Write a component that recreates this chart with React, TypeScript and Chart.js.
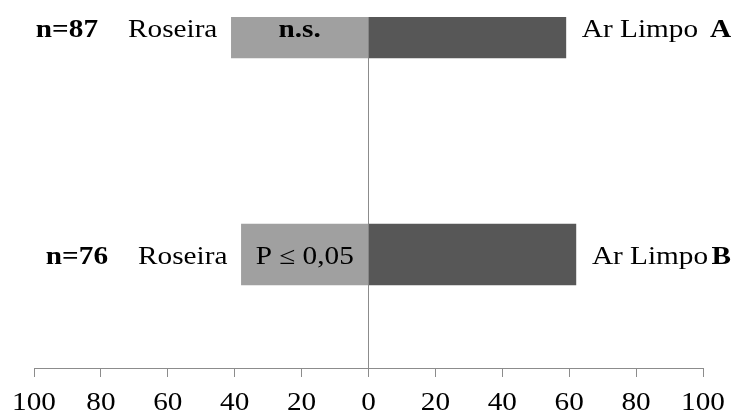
import React, { useEffect, useRef } from "react";
import { Chart, registerables } from "chart.js";

Chart.register(...registerables);

const rows = ["A", "B"];
const sampleSizes = ["n=87", "n=76"];
const significance = ["n.s.", "P \u2264 0,05"];
const leftLabel = "Roseira";
const rightLabel = "Ar Limpo";
const roseira = [41, 38];
const arLimpo = [59, 62];
const xMin = -100;
const xMax = 100;
const xStep = 20;

const FONT = '"Liberation Serif", "Times New Roman", serif';
const SX = 1.17;
const SIZE = 25;

function drawText(ctx: CanvasRenderingContext2D, text: string, x: number, y: number, align: "left" | "right" | "center", bold = false) {
  ctx.save();
  ctx.font = `${bold ? "bold " : ""}${SIZE}px ${FONT}`;
  const w = ctx.measureText(text).width * SX;
  const left = align === "right" ? x - w : align === "center" ? x - w / 2 : x;
  ctx.translate(left, y);
  ctx.scale(SX, 1);
  ctx.textAlign = "left";
  ctx.textBaseline = "alphabetic";
  ctx.fillStyle = "#000";
  ctx.fillText(text, 0, 0);
  ctx.restore();
  return w;
}

const labelsPlugin = {
  id: "labelsPlugin",
  afterDraw(chart: any) {
    const ctx: CanvasRenderingContext2D = chart.ctx;
    const xs = chart.scales.x;
    xs.ticks.forEach((t: any, i: number) => {
      drawText(ctx, String(Math.abs(t.value)), xs.getPixelForTick(i), 410, "center");
    });
    const left = chart.getDatasetMeta(0).data;
    const right = chart.getDatasetMeta(1).data;
    rows.forEach((r, i) => {
      const lb = left[i];
      const rb = right[i];
      const y = lb.y + 10;
      const rw = drawText(ctx, leftLabel, lb.x - 14, y, "right");
      drawText(ctx, sampleSizes[i], lb.x - 14 - rw - 30, y, "right", true);
      drawText(ctx, significance[i], (lb.x + lb.base) / 2, y, "center", i === 0);
      drawText(ctx, rightLabel, rb.x + 16, y, "left");
      drawText(ctx, r, chart.chartArea.right + 28, y, "right", true);
    });
  },
};

export default function App() {
  const ref = useRef<HTMLCanvasElement | null>(null);
  useEffect(() => {
    document.body.style.margin = "0";
    const pos = rows.map((_, i) => rows.length - i - 0.5);
    const chart = new Chart(ref.current as HTMLCanvasElement, {
      type: "bar",
      data: {
        datasets: [
          {
            label: leftLabel,
            data: roseira.map((v, i) => ({ x: -v, y: pos[i] })),
            backgroundColor: "#a0a0a0",
            barThickness: 61,
            grouped: false,
            clip: 0,
          },
          {
            label: rightLabel,
            data: arLimpo.map((v, i) => ({ x: v, y: pos[i] })),
            backgroundColor: "#575757",
            barThickness: 61,
            grouped: false,
            clip: 0,
          },
        ],
      },
      options: {
        indexAxis: "y",
        animation: false,
        responsive: false,
        layout: { padding: { left: 34, right: 31, top: 17, bottom: 0 } },
        plugins: { legend: { display: false }, tooltip: { enabled: false } },
        scales: {
          x: {
            type: "linear",
            min: xMin,
            max: xMax,
            ticks: { stepSize: xStep, display: false },
            grid: {
              color: (c: any) => (c.tick && c.tick.value === 0 ? "#8c8c8c" : "rgba(0,0,0,0)"),
              tickColor: "#8c8c8c",
              tickLength: 9,
              lineWidth: 1,
            },
            border: { color: "#8c8c8c", width: 1 },
            afterFit: (s: any) => {
              s.height = 44;
            },
          },
          y: {
            type: "linear",
            display: false,
            offset: false,
            min: 0,
            max: 1.546,
          },
        },
      } as any,
      plugins: [labelsPlugin],
    });
    return () => chart.destroy();
  }, []);
  return <canvas ref={ref} width={734} height={412} style={{ display: "block" }} />;
}
